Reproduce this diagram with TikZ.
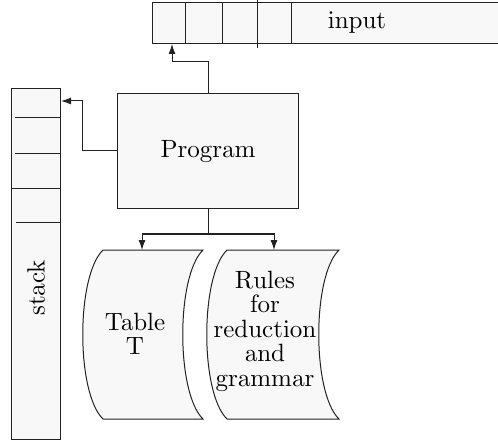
\documentclass[tikz,border=0pt]{standalone}
\usetikzlibrary{arrows.meta}
\definecolor{boxfill}{HTML}{F8F8F8}
\definecolor{inkline}{HTML}{222222}
\font\diagfont=cmr10 at 25bp
\newcommand\diagtext{\diagfont\baselineskip=24.5bp\relax}
\begin{document}
\begin{tikzpicture}[x=1bp,y=-1bp,
  every node/.style={font=\diagtext},
  box/.style={draw=inkline,fill=boxfill,line width=1bp,inner sep=0pt},
  edge/.style={draw=inkline,line width=1bp},
  link/.style={edge,-{Latex[length=10bp,width=7bp]}}]
\useasboundingbox (0,0) rectangle (498,445);

% input tape, running off the right-hand side
\fill[boxfill] (152,3) rectangle (498,44);
\draw[edge] (498,3) -- (152,3) -- (152,44) -- (498,44);
\foreach \x in {185,222,291} \draw[edge] (\x,3) -- (\x,44);
\draw[edge] (257,0) -- (257,48);
\node (input) at (357,23) {input};
\coordinate (head) at (172,44);

% stack
\node[box,minimum width=48bp,minimum height=350bp] (stack) at (36,264) {};
\foreach \y/\a in {118/15,154/15,223/16} \draw[edge] (\a,\y) -- (60,\y);
\draw[edge] (12,189) -- (60,189);
\node[rotate=90] (stacklabel) at (36,288) {stack};
\coordinate (top) at (61,101);

% control program
\node[box,minimum width=181bp,minimum height=114bp] (prog) at (208,151) {Program};

% table T drum
\filldraw[edge,fill=boxfill] (103,250) -- (203,250)
  .. controls (176,276) and (176,393) .. (203,419) -- (103,419)
  .. controls (76,393) and (76,276) .. (103,250) -- cycle;
\node[align=center] (table) at (135,334) {Table\\T};
\coordinate (tabletop) at (142,250);

% rules drum
\filldraw[edge,fill=boxfill] (227,250) -- (339,250)
  .. controls (312,276) and (312,393) .. (339,419) -- (227,419)
  .. controls (200,393) and (200,276) .. (227,250) -- cycle;
\node[align=center] (rules) at (265,331) {Rules\\for\\reduction\\and\\grammar};
\coordinate (rulestop) at (274,250);

% connectors
\coordinate (split) at (208,234);
\draw[link] (prog.north) |- (172,62) -- (head);
\draw[link] (prog.west) -| (82,101) -- (top);
\draw[edge] (prog.south) -- (split);
\draw[link] (split) -| (tabletop);
\draw[link] (split) -| (rulestop);
\end{tikzpicture}
\end{document}
